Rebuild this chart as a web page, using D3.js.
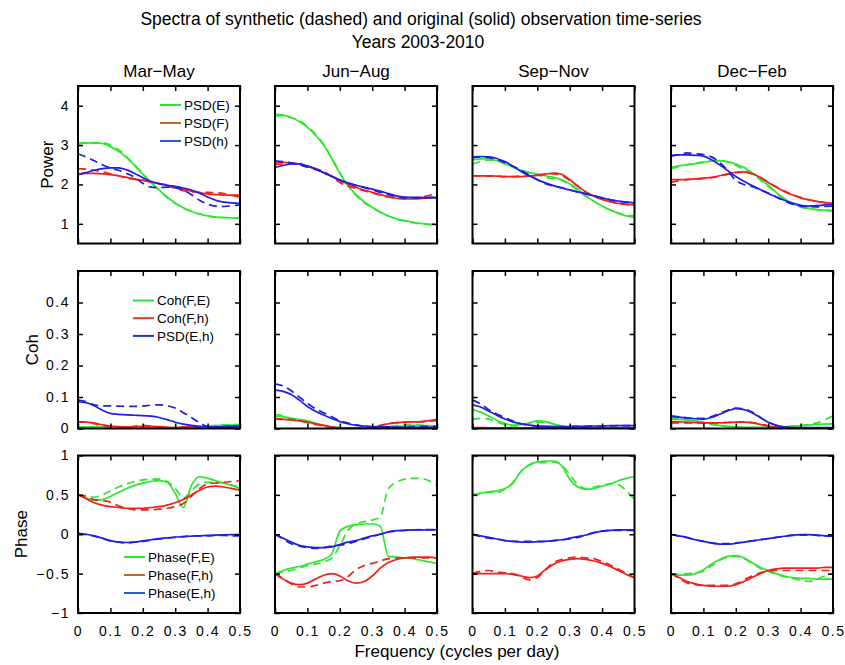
<!DOCTYPE html>
<html>
<head>
<meta charset="utf-8">
<script src="https://cdn.jsdelivr.net/npm/d3@7"></script>
<style>
  body { margin: 0; background: #fff; }
  text { font-family: "Liberation Sans", Arial, sans-serif; fill: #000; }
</style>
</head>
<body>
<svg id="chart" width="845" height="665"></svg>
<script>
// frequency grid (cycles per day)
const freq = [0, 0.025, 0.05, 0.075, 0.1, 0.125, 0.15, 0.175, 0.2, 0.225, 0.25,
              0.275, 0.3, 0.325, 0.35, 0.375, 0.4, 0.425, 0.45, 0.475, 0.5];
const seasons = ["Mar\u2212May", "Jun\u2212Aug", "Sep\u2212Nov", "Dec\u2212Feb"];
const xTicks = [0, 0.1, 0.2, 0.3, 0.4, 0.5];

// ---- Power (PSD), "_s" = synthetic (dashed)
const powE_mam   = [3.03,3.05,3.06,3.04,2.96,2.84,2.68,2.48,2.26,2.05,1.86,1.68,1.53,1.41,1.32,1.25,1.2,1.17,1.16,1.15,1.14];
const powE_mam_s = [3.05,3.06,3.05,3.06,3.0,2.88,2.7,2.5,2.27,2.05,1.85,1.67,1.52,1.4,1.31,1.25,1.2,1.17,1.16,1.15,1.14];
const powF_mam   = [2.27,2.28,2.28,2.27,2.25,2.22,2.18,2.14,2.1,2.06,2.02,1.98,1.93,1.88,1.83,1.79,1.76,1.74,1.73,1.73,1.73];
const powF_mam_s = [2.4,2.39,2.36,2.32,2.27,2.22,2.16,2.13,2.11,2.07,2.02,1.96,1.9,1.84,1.81,1.8,1.8,1.79,1.77,1.72,1.68];
const powH_mam   = [2.25,2.3,2.36,2.4,2.42,2.42,2.37,2.28,2.17,2.08,2.02,1.98,1.95,1.91,1.86,1.78,1.68,1.6,1.55,1.53,1.52];
const powH_mam_s = [2.78,2.7,2.6,2.5,2.42,2.36,2.28,2.18,2.03,1.93,1.92,1.93,1.92,1.85,1.74,1.6,1.5,1.45,1.44,1.46,1.48];

const powE_jja   = [3.78,3.76,3.7,3.6,3.45,3.25,3.0,2.66,2.28,1.98,1.74,1.56,1.42,1.3,1.2,1.13,1.08,1.04,1.01,0.99,0.98];
const powE_jja_s = [3.75,3.74,3.7,3.62,3.47,3.28,3.02,2.68,2.3,1.96,1.72,1.54,1.41,1.29,1.2,1.12,1.07,1.03,1.0,0.98,0.97];
const powF_jja   = [2.55,2.56,2.55,2.52,2.46,2.39,2.3,2.2,2.1,2.01,1.93,1.86,1.8,1.74,1.69,1.65,1.63,1.63,1.64,1.66,1.68];
const powF_jja_s = [2.5,2.52,2.53,2.51,2.45,2.4,2.33,2.2,2.05,1.96,1.9,1.84,1.78,1.73,1.68,1.65,1.64,1.66,1.68,1.72,1.78];
const powH_jja   = [2.43,2.48,2.52,2.52,2.47,2.4,2.3,2.21,2.12,2.04,1.98,1.93,1.88,1.83,1.77,1.71,1.68,1.67,1.67,1.66,1.66];
const powH_jja_s = [2.6,2.58,2.55,2.5,2.44,2.38,2.3,2.21,2.11,2.03,1.97,1.92,1.86,1.8,1.74,1.69,1.66,1.66,1.66,1.67,1.68];

const powE_son   = [2.62,2.65,2.65,2.6,2.52,2.44,2.36,2.3,2.26,2.22,2.18,2.12,2.02,1.88,1.71,1.57,1.45,1.35,1.27,1.2,1.16];
const powE_son_s = [2.52,2.58,2.62,2.62,2.55,2.45,2.37,2.3,2.24,2.18,2.14,2.1,2.0,1.85,1.7,1.57,1.45,1.35,1.27,1.22,1.2];
const powF_son   = [2.22,2.22,2.22,2.21,2.2,2.2,2.2,2.21,2.23,2.26,2.29,2.26,2.12,1.96,1.81,1.7,1.62,1.56,1.52,1.5,1.48];
const powF_son_s = [2.22,2.22,2.21,2.21,2.2,2.2,2.21,2.22,2.24,2.26,2.27,2.23,2.1,1.95,1.8,1.7,1.62,1.56,1.52,1.49,1.46];
const powH_son   = [2.7,2.71,2.7,2.66,2.58,2.46,2.33,2.22,2.12,2.04,1.97,1.91,1.86,1.81,1.76,1.71,1.66,1.61,1.58,1.55,1.53];
const powH_son_s = [2.68,2.7,2.68,2.63,2.55,2.46,2.36,2.24,2.12,2.02,1.96,1.92,1.86,1.8,1.76,1.71,1.66,1.61,1.57,1.55,1.53];

const powE_djf   = [2.44,2.47,2.5,2.53,2.56,2.59,2.6,2.58,2.52,2.43,2.3,2.15,1.98,1.8,1.64,1.52,1.44,1.39,1.36,1.34,1.32];
const powE_djf_s = [2.4,2.45,2.5,2.54,2.57,2.6,2.61,2.57,2.48,2.38,2.28,2.12,1.95,1.78,1.62,1.5,1.42,1.38,1.36,1.35,1.34];
const powF_djf   = [2.12,2.12,2.13,2.14,2.16,2.18,2.22,2.27,2.31,2.32,2.27,2.18,2.05,1.93,1.82,1.73,1.66,1.61,1.57,1.54,1.52];
const powF_djf_s = [2.05,2.1,2.12,2.13,2.15,2.17,2.21,2.26,2.3,2.31,2.27,2.18,2.06,1.94,1.83,1.74,1.67,1.61,1.57,1.54,1.52];
const powH_djf   = [2.74,2.75,2.75,2.74,2.72,2.63,2.5,2.35,2.2,2.08,1.97,1.87,1.77,1.68,1.6,1.53,1.47,1.45,1.46,1.48,1.49];
const powH_djf_s = [2.72,2.76,2.8,2.78,2.76,2.7,2.56,2.35,2.1,2.0,1.95,1.87,1.78,1.68,1.58,1.5,1.45,1.44,1.43,1.44,1.45];

// ---- Coherence
const cohFE_mam   = [0.005,0.005,0.005,0.005,0.005,0.005,0.005,0.005,0.005,0.004,0.003,0.003,0.003,0.003,0.004,0.005,0.007,0.009,0.01,0.011,0.012];
const cohFE_mam_s = [0.004,0.005,0.006,0.006,0.005,0.004,0.004,0.005,0.006,0.005,0.003,0.002,0.002,0.003,0.004,0.006,0.008,0.01,0.011,0.012,0.012];
const cohFh_mam   = [0.02,0.02,0.017,0.012,0.008,0.006,0.005,0.006,0.007,0.007,0.006,0.004,0.003,0.004,0.005,0.005,0.005,0.005,0.006,0.007,0.008];
const cohFh_mam_s = [0.022,0.021,0.015,0.01,0.006,0.005,0.004,0.007,0.01,0.008,0.005,0.003,0.002,0.005,0.008,0.006,0.004,0.003,0.003,0.004,0.004];
const cohEh_mam   = [0.085,0.082,0.072,0.058,0.048,0.045,0.043,0.042,0.041,0.039,0.035,0.028,0.02,0.014,0.01,0.007,0.005,0.005,0.006,0.007,0.008];
const cohEh_mam_s = [0.09,0.085,0.075,0.072,0.072,0.071,0.07,0.07,0.071,0.074,0.075,0.072,0.065,0.05,0.035,0.018,0.006,0.003,0.003,0.003,0.003];

const cohFE_jja   = [0.04,0.037,0.033,0.029,0.024,0.017,0.01,0.005,0.003,0.001,0.001,0.001,0.001,0.002,0.003,0.005,0.008,0.01,0.01,0.009,0.008];
const cohFE_jja_s = [0.045,0.04,0.03,0.025,0.02,0.014,0.008,0.004,0.002,0.002,0.002,0.002,0.002,0.004,0.006,0.009,0.012,0.012,0.01,0.007,0.004];
const cohFh_jja   = [0.03,0.029,0.027,0.024,0.02,0.015,0.01,0.005,0.002,0.001,0.001,0.002,0.004,0.009,0.015,0.018,0.02,0.021,0.022,0.025,0.028];
const cohFh_jja_s = [0.032,0.03,0.028,0.024,0.019,0.013,0.008,0.004,0.002,0.001,0.001,0.002,0.005,0.01,0.016,0.019,0.02,0.021,0.021,0.023,0.025];
const cohEh_jja   = [0.122,0.118,0.108,0.09,0.07,0.055,0.043,0.032,0.022,0.015,0.01,0.008,0.006,0.005,0.005,0.004,0.004,0.004,0.004,0.004,0.004];
const cohEh_jja_s = [0.142,0.135,0.12,0.1,0.08,0.063,0.05,0.037,0.025,0.017,0.012,0.007,0.004,0.003,0.003,0.004,0.005,0.006,0.007,0.007,0.007];

const cohFE_son   = [0.06,0.052,0.04,0.026,0.016,0.011,0.012,0.018,0.024,0.022,0.015,0.008,0.003,0.001,0.001,0.001,0.001,0.001,0.001,0.001,0.001];
const cohFE_son_s = [0.03,0.032,0.03,0.02,0.012,0.008,0.01,0.016,0.02,0.02,0.013,0.006,0.002,0.001,0.001,0.001,0.001,0.001,0.001,0.001,0.001];
const cohFh_son   = [0.003,0.003,0.002,0.002,0.002,0.002,0.002,0.002,0.002,0.002,0.002,0.002,0.002,0.002,0.002,0.002,0.002,0.002,0.002,0.002,0.002];
const cohFh_son_s = [0.002,0.002,0.002,0.002,0.002,0.002,0.002,0.002,0.002,0.002,0.002,0.002,0.002,0.002,0.002,0.002,0.002,0.002,0.002,0.002,0.002];
const cohEh_son   = [0.075,0.068,0.055,0.042,0.03,0.021,0.015,0.011,0.008,0.007,0.006,0.006,0.006,0.007,0.007,0.008,0.008,0.009,0.009,0.009,0.009];
const cohEh_son_s = [0.09,0.078,0.06,0.046,0.035,0.024,0.015,0.01,0.007,0.006,0.006,0.006,0.006,0.007,0.007,0.008,0.008,0.008,0.009,0.009,0.009];

const cohFE_djf   = [0.03,0.029,0.027,0.024,0.02,0.015,0.01,0.007,0.005,0.004,0.004,0.004,0.004,0.005,0.005,0.007,0.009,0.011,0.013,0.014,0.015];
const cohFE_djf_s = [0.032,0.03,0.027,0.023,0.018,0.013,0.009,0.006,0.004,0.003,0.003,0.003,0.003,0.004,0.006,0.008,0.01,0.013,0.018,0.028,0.04];
const cohFh_djf   = [0.022,0.021,0.02,0.019,0.018,0.018,0.018,0.019,0.02,0.02,0.018,0.013,0.008,0.004,0.003,0.002,0.002,0.002,0.002,0.002,0.002];
const cohFh_djf_s = [0.018,0.018,0.018,0.018,0.017,0.017,0.018,0.019,0.02,0.021,0.019,0.014,0.008,0.004,0.002,0.002,0.002,0.002,0.002,0.002,0.002];
const cohEh_djf   = [0.038,0.036,0.033,0.031,0.03,0.035,0.045,0.056,0.063,0.06,0.05,0.035,0.02,0.01,0.005,0.003,0.003,0.003,0.003,0.003,0.003];
const cohEh_djf_s = [0.04,0.037,0.034,0.032,0.032,0.038,0.048,0.058,0.065,0.062,0.052,0.036,0.02,0.01,0.004,0.002,0.002,0.002,0.002,0.002,0.002];

// ---- Phase
const phFE_mam   = [0.5,0.46,0.43,0.44,0.48,0.53,0.58,0.62,0.65,0.67,0.68,0.66,0.52,0.34,0.62,0.73,0.71,0.68,0.65,0.62,0.58];
const phFE_mam_s = [0.5,0.49,0.47,0.5,0.55,0.6,0.64,0.67,0.69,0.7,0.7,0.67,0.58,0.46,0.55,0.64,0.66,0.66,0.65,0.62,0.6];
const phFh_mam   = [0.5,0.45,0.4,0.37,0.35,0.34,0.33,0.33,0.33,0.34,0.35,0.37,0.4,0.44,0.5,0.56,0.6,0.61,0.6,0.58,0.56];
const phFh_mam_s = [0.5,0.48,0.44,0.43,0.41,0.36,0.33,0.31,0.31,0.31,0.32,0.33,0.35,0.39,0.48,0.58,0.64,0.65,0.66,0.67,0.68];
const phEh_mam   = [0.01,0.0,-0.02,-0.05,-0.08,-0.1,-0.105,-0.1,-0.085,-0.07,-0.055,-0.045,-0.035,-0.03,-0.025,-0.02,-0.015,-0.01,-0.008,-0.005,-0.005];
const phEh_mam_s = [0.01,-0.005,-0.025,-0.055,-0.085,-0.1,-0.11,-0.1,-0.09,-0.075,-0.06,-0.05,-0.04,-0.03,-0.02,-0.02,-0.02,-0.015,-0.015,-0.02,-0.02];

const phFE_jja   = [-0.5,-0.46,-0.43,-0.41,-0.38,-0.35,-0.32,-0.25,0.04,0.1,0.12,0.13,0.13,0.1,-0.28,-0.29,-0.3,-0.31,-0.33,-0.35,-0.37];
const phFE_jja_s = [-0.5,-0.48,-0.46,-0.43,-0.4,-0.38,-0.35,-0.3,-0.15,0.05,0.13,0.16,0.18,0.22,0.58,0.66,0.7,0.71,0.71,0.68,0.62];
const phFh_jja   = [-0.5,-0.57,-0.62,-0.64,-0.62,-0.57,-0.52,-0.5,-0.53,-0.59,-0.62,-0.6,-0.53,-0.43,-0.36,-0.32,-0.3,-0.29,-0.29,-0.29,-0.3];
const phFh_jja_s = [-0.5,-0.56,-0.63,-0.67,-0.67,-0.65,-0.62,-0.6,-0.59,-0.54,-0.45,-0.4,-0.37,-0.34,-0.31,-0.3,-0.3,-0.3,-0.3,-0.3,-0.3];
const phEh_jja   = [0,-0.05,-0.1,-0.14,-0.16,-0.17,-0.17,-0.16,-0.13,-0.1,-0.08,-0.05,-0.02,0.0,0.03,0.045,0.05,0.055,0.055,0.055,0.055];
const phEh_jja_s = [0,-0.06,-0.12,-0.15,-0.17,-0.18,-0.17,-0.15,-0.14,-0.12,-0.09,-0.06,-0.03,0.0,0.03,0.04,0.05,0.055,0.06,0.06,0.06];

const phFE_son   = [0.5,0.52,0.54,0.55,0.58,0.65,0.8,0.88,0.92,0.93,0.93,0.87,0.7,0.6,0.57,0.58,0.61,0.64,0.68,0.71,0.73];
const phFE_son_s = [0.5,0.52,0.53,0.53,0.57,0.66,0.8,0.88,0.91,0.91,0.92,0.88,0.76,0.63,0.58,0.6,0.62,0.64,0.63,0.55,0.44];
const phFh_son   = [-0.5,-0.5,-0.5,-0.5,-0.5,-0.51,-0.53,-0.55,-0.53,-0.45,-0.38,-0.34,-0.32,-0.31,-0.32,-0.34,-0.37,-0.41,-0.46,-0.51,-0.55];
const phFh_son_s = [-0.5,-0.47,-0.46,-0.48,-0.49,-0.5,-0.54,-0.58,-0.55,-0.45,-0.36,-0.32,-0.3,-0.29,-0.3,-0.31,-0.35,-0.39,-0.44,-0.5,-0.55];
const phEh_son   = [0,-0.02,-0.04,-0.06,-0.08,-0.09,-0.1,-0.1,-0.095,-0.09,-0.08,-0.07,-0.05,-0.03,-0.01,0.02,0.04,0.05,0.055,0.055,0.055];
const phEh_son_s = [0,-0.03,-0.05,-0.06,-0.08,-0.09,-0.09,-0.09,-0.09,-0.09,-0.08,-0.07,-0.06,-0.04,-0.01,0.02,0.04,0.05,0.05,0.05,0.05];

const phFE_djf   = [-0.5,-0.52,-0.52,-0.5,-0.45,-0.38,-0.32,-0.28,-0.27,-0.3,-0.36,-0.42,-0.46,-0.5,-0.53,-0.55,-0.56,-0.56,-0.57,-0.57,-0.57];
const phFE_djf_s = [-0.5,-0.51,-0.5,-0.49,-0.47,-0.4,-0.33,-0.29,-0.28,-0.31,-0.37,-0.43,-0.47,-0.51,-0.54,-0.56,-0.58,-0.6,-0.57,-0.53,-0.5];
const phFh_djf   = [-0.5,-0.55,-0.6,-0.63,-0.65,-0.66,-0.66,-0.66,-0.64,-0.6,-0.55,-0.5,-0.46,-0.44,-0.43,-0.43,-0.43,-0.43,-0.43,-0.42,-0.42];
const phFh_djf_s = [-0.5,-0.56,-0.62,-0.64,-0.65,-0.65,-0.65,-0.65,-0.63,-0.58,-0.53,-0.49,-0.47,-0.46,-0.46,-0.46,-0.46,-0.46,-0.46,-0.46,-0.46];
const phEh_djf   = [0,-0.02,-0.04,-0.07,-0.09,-0.11,-0.125,-0.125,-0.115,-0.1,-0.085,-0.07,-0.055,-0.04,-0.025,-0.012,-0.005,-0.005,-0.01,-0.02,-0.025];
const phEh_djf_s = [0,-0.025,-0.045,-0.07,-0.09,-0.11,-0.12,-0.12,-0.11,-0.1,-0.085,-0.07,-0.055,-0.04,-0.025,-0.015,-0.01,-0.01,-0.015,-0.02,-0.025];

// legend labels
const legendPow = ["PSD(E)", "PSD(F)", "PSD(h)"];
const legendCoh = ["Coh(F,E)", "Coh(F,h)", "PSD(E,h)"];
const legendPh  = ["Phase(F,E)", "Phase(F,h)", "Phase(E,h)"];

// curves per row / season: [solid, dashed] for series green, red, blue
const rowsData = [
  [[[powE_mam, powE_mam_s], [powF_mam, powF_mam_s], [powH_mam, powH_mam_s]],
   [[powE_jja, powE_jja_s], [powF_jja, powF_jja_s], [powH_jja, powH_jja_s]],
   [[powE_son, powE_son_s], [powF_son, powF_son_s], [powH_son, powH_son_s]],
   [[powE_djf, powE_djf_s], [powF_djf, powF_djf_s], [powH_djf, powH_djf_s]]],
  [[[cohFE_mam, cohFE_mam_s], [cohFh_mam, cohFh_mam_s], [cohEh_mam, cohEh_mam_s]],
   [[cohFE_jja, cohFE_jja_s], [cohFh_jja, cohFh_jja_s], [cohEh_jja, cohEh_jja_s]],
   [[cohFE_son, cohFE_son_s], [cohFh_son, cohFh_son_s], [cohEh_son, cohEh_son_s]],
   [[cohFE_djf, cohFE_djf_s], [cohFh_djf, cohFh_djf_s], [cohEh_djf, cohEh_djf_s]]],
  [[[phFE_mam, phFE_mam_s], [phFh_mam, phFh_mam_s], [phEh_mam, phEh_mam_s]],
   [[phFE_jja, phFE_jja_s], [phFh_jja, phFh_jja_s], [phEh_jja, phEh_jja_s]],
   [[phFE_son, phFE_son_s], [phFh_son, phFh_son_s], [phEh_son, phEh_son_s]],
   [[phFE_djf, phFE_djf_s], [phFh_djf, phFh_djf_s], [phEh_djf, phEh_djf_s]]]
];

const lineColors = ["#2ee62e", "#f0201c", "#1f1fe6"];

const fmt = d => (d < 0 ? "\u2212" : "") + Math.abs(d);

const rows = [
  { label: "Power", domain: [0.5, 4.5], ticks: [1, 2, 3, 4], labelX: 53,
    legend: legendPow, legColors: ["#2ee62e", "#b86a30", "#2b5cd8"], leg: { x: 160, y: 105, dy: 18 } },
  { label: "Coh", domain: [0, 0.5], ticks: [0, 0.1, 0.2, 0.3, 0.4], labelX: 38,
    legend: legendCoh, legColors: ["#2ee62e", "#ea3a16", "#2236c8"], leg: { x: 133, y: 300.5, dy: 17.7 } },
  { label: "Phase", domain: [-1, 1], ticks: [-1, -0.5, 0, 0.5, 1], labelX: 27,
    legend: legendPh, legColors: ["#2ee62e", "#b86a30", "#2b5cd8"], leg: { x: 124, y: 557, dy: 18 } }
];

const colLeft = [78, 275, 472.5, 671];
const rowTop = [86, 271, 455.5];
const pw = 162, ph = 157.5;

const svg = d3.select("#chart");
svg.append("rect").attr("width", 845).attr("height", 665).attr("fill", "#fff");

// titles
svg.append("text").attr("x", 421).attr("y", 25).attr("text-anchor", "middle")
  .style("font-size", "17.5px").text("Spectra of synthetic (dashed) and original (solid) observation time-series");
svg.append("text").attr("x", 418).attr("y", 48).attr("text-anchor", "middle")
  .style("font-size", "17.5px").text("Years 2003-2010");
svg.append("text").attr("x", 457).attr("y", 657).attr("text-anchor", "middle")
  .style("font-size", "17px").text("Frequency (cycles per day)");

const x = d3.scaleLinear().domain([0, 0.5]).range([0, pw]);

rows.forEach((row, r) => {
  const y = d3.scaleLinear().domain(row.domain).range([ph, 0]);

  svg.append("text")
    .attr("transform", `translate(${row.labelX},${rowTop[r] + ph / 2}) rotate(-90)`)
    .attr("text-anchor", "middle").style("font-size", "17px").text(row.label);

  seasons.forEach((season, c) => {
    const g = svg.append("g").attr("transform", `translate(${colLeft[c]},${rowTop[r]})`);
    const clipId = `clip-${r}-${c}`;
    g.append("clipPath").attr("id", clipId)
      .append("rect").attr("width", pw).attr("height", ph);

    if (r === 0) {
      g.append("text").attr("x", pw / 2).attr("y", -9).attr("text-anchor", "middle")
        .style("font-size", "17px").text(season);
    }

    // curves
    const line = d3.line()
      .x((d, i) => x(freq[i]))
      .y(d => y(d))
      .curve(d3.curveMonotoneX);
    const curves = g.append("g").attr("clip-path", `url(#${clipId})`);
    rowsData[r][c].forEach((pair, s) => {
      curves.append("path").datum(pair[0])
        .attr("fill", "none").attr("stroke", lineColors[s]).attr("stroke-width", 1.7)
        .attr("d", line);
      curves.append("path").datum(pair[1])
        .attr("fill", "none").attr("stroke", lineColors[s]).attr("stroke-width", 1.7)
        .attr("stroke-dasharray", "8,5")
        .attr("d", line);
    });

    // axes with inward ticks
    const bottom = g.append("g").attr("transform", `translate(0,${ph})`)
      .call(d3.axisBottom(x).tickValues(xTicks).tickSize(-5).tickPadding(13)
        .tickFormat(r === 2 ? fmt : () => ""));
    const top = g.append("g").call(d3.axisTop(x).tickValues(xTicks).tickSize(-5).tickFormat(() => ""));
    const left = g.append("g")
      .call(d3.axisLeft(y).tickValues(row.ticks).tickSize(-5).tickPadding(8)
        .tickFormat(c === 0 ? fmt : () => ""));
    const right = g.append("g").attr("transform", `translate(${pw},0)`)
      .call(d3.axisRight(y).tickValues(row.ticks).tickSize(-5).tickFormat(() => ""));
    [bottom, top, left, right].forEach(a => {
      a.select(".domain").remove();
      a.selectAll(".tick line").attr("stroke", "#000").attr("stroke-width", 1.5);
      a.selectAll(".tick text").style("font-size", "14px")
        .style("font-family", "'Liberation Sans', Arial, sans-serif")
        .style("letter-spacing", "1.5px").attr("fill", "#000");
    });

    g.append("rect").attr("width", pw).attr("height", ph)
      .attr("fill", "none").attr("stroke", "#000").attr("stroke-width", 2);

    // legend in first column
    if (c === 0) {
      const lg = g.append("g");
      row.legend.forEach((name, i) => {
        const ly = row.leg.y - rowTop[r] + i * row.leg.dy;
        const lx = row.leg.x - colLeft[c];
        lg.append("line").attr("x1", lx).attr("x2", lx + 21).attr("y1", ly).attr("y2", ly)
          .attr("stroke", row.legColors[i]).attr("stroke-width", 2);
        lg.append("text").attr("x", lx + 24).attr("y", ly).attr("dy", "0.35em")
          .style("font-size", "13.5px").text(name);
      });
    }
  });
});
</script>
</body>
</html>
